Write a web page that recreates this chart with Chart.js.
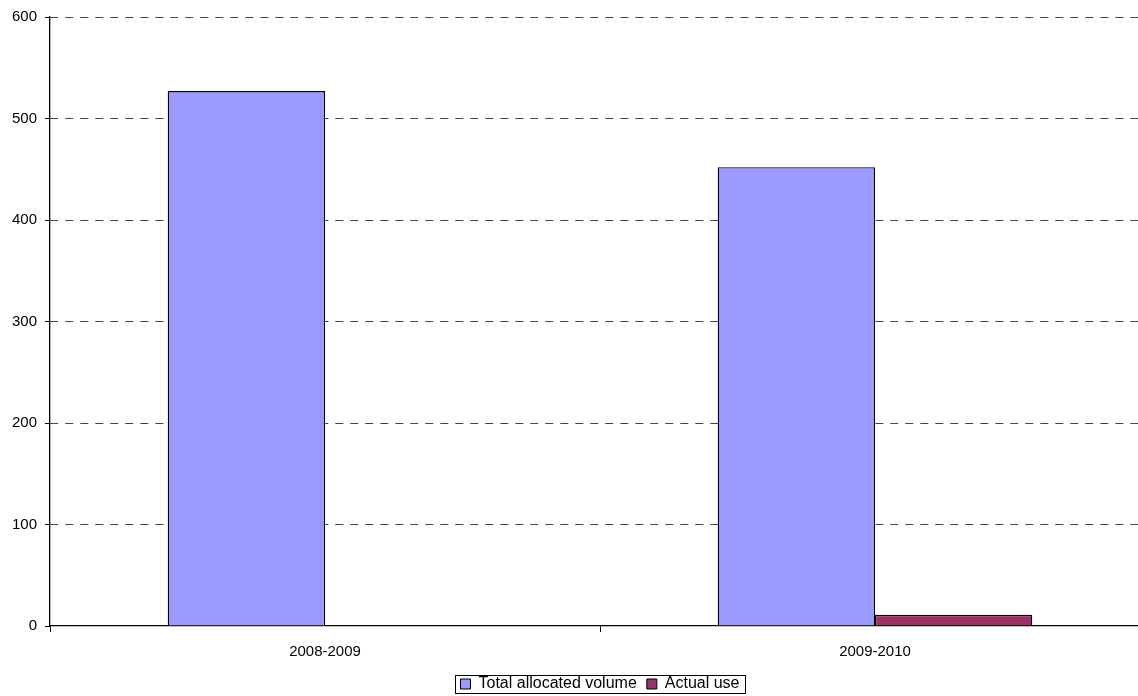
<!DOCTYPE html>
<html>
<head>
<meta charset="utf-8">
<script src="https://cdn.jsdelivr.net/npm/chart.js@4.4.1/dist/chart.umd.min.js"></script>
<style>
  html, body { margin: 0; padding: 0; background: #fff; overflow: hidden; }
  /* the plot runs a little past the right edge, so the canvas is clipped */
  #wrap { width: 1138px; height: 696px; overflow: hidden; }
</style>
</head>
<body>
<div id="wrap"><canvas id="volumeChart" width="1150" height="696"></canvas></div>
<script>
// === Data ===
const seasons = ['2008-2009', '2009-2010'];
const allocatedVolume = [527, 452];
const actualUse = [0, 11];
const yTicks = [0, 100, 200, 300, 400, 500, 600];

// === Legend tweaks: push it to the bottom edge and frame it ===
const legendFrame = {
  id: 'legendFrame',
  afterLayout(chart) {
    // legend reserves 10px below its items; move it down into that space
    const lg = chart.legend;
    lg.top += 6;
    lg.bottom += 6;
  },
  afterDraw(chart) {
    const boxes = chart.legend.legendHitBoxes;
    if (!boxes || !boxes.length) return;
    const left = Math.min(...boxes.map(b => b.left)) - 5;
    const right = Math.max(...boxes.map(b => b.left + b.width)) + 6;
    const top = Math.min(...boxes.map(b => b.top)) - 1;
    const bottom = Math.max(...boxes.map(b => b.top + b.height)) + 1;
    const ctx = chart.ctx;
    ctx.save();
    ctx.strokeStyle = '#000';
    ctx.lineWidth = 1;
    ctx.strokeRect(Math.round(left) + 0.5, Math.round(top) + 0.5, Math.round(right - left), Math.round(bottom - top));
    ctx.restore();
  }
};

Chart.defaults.font.family = '"Liberation Sans", Arial, sans-serif';
Chart.defaults.font.size = 15;
Chart.defaults.color = '#000';

new Chart(document.getElementById('volumeChart').getContext('2d'), {
  type: 'bar',
  data: {
    labels: seasons,
    datasets: [
      {
        label: 'Total allocated volume',
        data: allocatedVolume,
        backgroundColor: '#9999FF',
        borderColor: '#000',
        borderWidth: 1.3,
        borderSkipped: 'bottom'
      },
      {
        label: 'Actual use',
        data: actualUse,
        backgroundColor: '#993366',
        borderColor: '#000',
        borderWidth: 1.3,
        borderSkipped: 'bottom'
      }
    ]
  },
  options: {
    responsive: false,
    animation: false,
    categoryPercentage: 0.572,
    barPercentage: 1,
    layout: { padding: { top: 16, right: 0, left: 0, bottom: 0 } },
    plugins: {
      title: { display: false },
      tooltip: { enabled: false },
      legend: {
        position: 'bottom',
        fullSize: false,
        labels: {
          boxWidth: 10,
          boxHeight: 10,
          padding: 10,
          color: '#000',
          font: { size: 16, lineHeight: 1 },
          generateLabels(chart) {
            return chart.data.datasets.map((ds, i) => ({
              text: ds.label,
              fillStyle: ds.backgroundColor,
              strokeStyle: '#000',
              lineWidth: 1,
              datasetIndex: i
            }));
          }
        }
      }
    },
    scales: {
      x: {
        offset: true,
        grid: {
          offset: true,
          drawOnChartArea: false,
          drawTicks: true,
          tickLength: 6,
          color: '#000'
        },
        border: { display: true, color: '#000', width: 1.3 },
        ticks: { padding: 11, color: '#000', font: { size: 15 } },
        afterFit(scale) { scale.height = 34; }
      },
      y: {
        min: 0,
        max: 600,
        afterBuildTicks(scale) { scale.ticks = yTicks.map(v => ({ value: v })); },
        grid: {
          color: (ctx) => (ctx.tick && ctx.tick.value === 0 ? 'rgba(0,0,0,0)' : '#444'),
          lineWidth: 1,
          tickLength: 5,
          drawTicks: true,
          tickBorderDash: [],
          tickColor: '#000'
        },
        border: { display: true, color: '#000', width: 1.3, dash: [8, 7] },
        ticks: { padding: 8, color: '#000', font: { size: 15 } },
        afterFit(scale) { scale.width = 50; }
      }
    }
  },
  plugins: [legendFrame]
});
</script>
</body>
</html>
